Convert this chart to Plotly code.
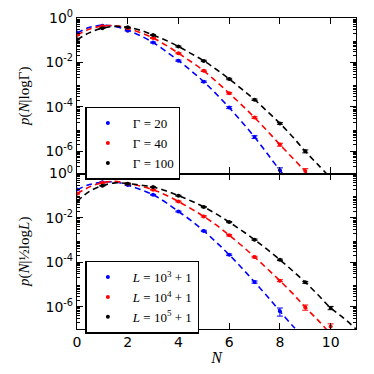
import plotly.graph_objects as go
from plotly.subplots import make_subplots

# model curves (dashed)
n_curve_top_blue = [0, 0.5, 1, 1.5, 2, 2.5, 3, 3.5, 4, 4.5, 5, 5.5, 6, 6.5, 7, 7.5, 8, 8.3]
p_curve_top_blue = [0.21, 0.38, 0.47, 0.42, 0.28, 0.16, 0.079, 0.032, 0.012, 4.2e-3, 1.35e-3,
                    3.7e-4, 9.3e-5, 2.1e-5, 4.4e-6, 7.9e-7, 1.4e-7, 5.6e-8]
n_curve_top_red = [0, 0.5, 1, 1.5, 2, 2.5, 3, 3.5, 4, 4.5, 5, 5.5, 6, 6.5, 7, 7.5, 8, 8.5, 9, 9.3]
p_curve_top_red = [0.17, 0.32, 0.43, 0.45, 0.35, 0.22, 0.126, 0.060, 0.026, 0.0107, 4.2e-3, 1.35e-3,
                   4.1e-4, 1.2e-4, 3.3e-5, 8.3e-6, 2.0e-6, 5.0e-7, 1.26e-7, 5.6e-8]
n_curve_top_black = [0, 0.5, 1, 1.5, 2, 2.5, 3, 3.5, 4, 4.5, 5, 5.5, 6, 6.5, 7, 7.5, 8, 8.5, 9, 9.5, 10]
p_curve_top_black = [0.105, 0.22, 0.35, 0.42, 0.38, 0.28, 0.17, 0.10, 0.052, 0.025, 0.0117, 4.8e-3,
                     1.8e-3, 6.3e-4, 2.1e-4, 6.3e-5, 1.8e-5, 4.5e-6, 1.0e-6, 2.5e-7, 6.3e-8]

n_curve_bot_blue = [0, 0.5, 1, 1.5, 2, 2.5, 3, 3.5, 4, 4.5, 5, 5.5, 6, 6.5, 7, 7.5, 8, 8.5, 8.8]
p_curve_bot_blue = [0.186, 0.32, 0.40, 0.42, 0.30, 0.19, 0.11, 0.050, 0.0195, 7.6e-3, 2.6e-3, 7.9e-4,
                    2.2e-4, 5.6e-5, 1.3e-5, 3.0e-6, 6.3e-7, 1.4e-7, 6.3e-8]
n_curve_bot_red = [0, 0.5, 1, 1.5, 2, 2.5, 3, 3.5, 4, 4.5, 5, 5.5, 6, 6.5, 7, 7.5, 8, 8.5, 9, 9.5, 9.9]
p_curve_bot_red = [0.123, 0.25, 0.38, 0.44, 0.35, 0.27, 0.186, 0.107, 0.055, 0.026, 0.0117, 4.7e-3,
                   1.66e-3, 5.6e-4, 1.74e-4, 5.2e-5, 1.5e-5, 4.0e-6, 9.5e-7, 2.5e-7, 7.9e-8]
n_curve_bot_black = [0, 0.5, 1, 1.5, 2, 2.5, 3, 3.5, 4, 4.5, 5, 5.5, 6, 6.5, 7, 7.5, 8, 8.5, 9, 9.5,
                     10, 10.5, 11]
p_curve_bot_black = [0.055, 0.16, 0.28, 0.38, 0.35, 0.30, 0.245, 0.166, 0.10, 0.058, 0.031, 0.0148,
                     6.5e-3, 2.7e-3, 1.05e-3, 3.8e-4, 1.3e-4, 4.2e-5, 1.26e-5, 3.5e-6, 8.9e-7, 3.2e-7, 1.0e-7]

# measured points with error bars
n_top_blue = [0, 1, 2, 3, 4, 5, 6, 7, 8]
p_top_blue = [0.22, 0.45, 0.27, 0.079, 0.012, 1.35e-3, 9.3e-5, 4.4e-6, 1.4e-7]
e_top_blue = [0.01, 0.02, 0.012, 0.004, 0.0008, 1.0e-4, 9e-6, 6e-7, 4e-8]
n_top_red = [0, 1, 2, 3, 4, 5, 6, 7, 8, 9]
p_top_red = [0.17, 0.43, 0.35, 0.126, 0.026, 4.2e-3, 4.1e-4, 3.3e-5, 2.0e-6, 1.3e-7]
e_top_red = [0.008, 0.02, 0.015, 0.006, 0.0015, 3e-4, 3.5e-5, 3e-6, 3e-7, 3.5e-8]
n_top_black = [0, 1, 2, 3, 4, 5, 6, 7, 8, 9]
p_top_black = [0.11, 0.35, 0.38, 0.17, 0.052, 0.0117, 1.8e-3, 2.1e-4, 1.8e-5, 1.0e-6]
e_top_black = [0.006, 0.015, 0.015, 0.008, 0.003, 8e-4, 1.3e-4, 1.6e-5, 1.6e-6, 1.5e-7]

n_bot_blue = [0, 1, 2, 3, 4, 5, 6, 7, 8]
p_bot_blue = [0.19, 0.40, 0.30, 0.11, 0.0195, 2.6e-3, 2.2e-4, 1.3e-5, 6.3e-7]
e_bot_blue = [0.01, 0.02, 0.013, 0.005, 0.001, 1.8e-4, 1.8e-5, 1.5e-6, 2.5e-7]
n_bot_red = [0, 1, 2, 3, 4, 5, 6, 7, 8, 9, 10]
p_bot_red = [0.123, 0.38, 0.35, 0.186, 0.055, 0.0117, 1.66e-3, 1.74e-4, 1.5e-5, 9.5e-7, 1.3e-7]
e_bot_red = [0.006, 0.018, 0.015, 0.008, 0.003, 8e-4, 1.2e-4, 1.4e-5, 1.5e-6, 2.5e-7, 4e-8]
n_bot_black = [0, 1, 2, 3, 4, 5, 6, 7, 8, 9, 10]
p_bot_black = [0.055, 0.28, 0.35, 0.245, 0.10, 0.031, 6.5e-3, 1.05e-3, 1.3e-4, 1.26e-5, 8.9e-7]
e_bot_black = [0.003, 0.012, 0.015, 0.01, 0.005, 0.002, 4e-4, 7e-5, 1e-5, 1.2e-6, 1.5e-7]

top_labels = ["Γ = 20", "Γ = 40", "Γ = 100"]
bot_labels = ["<i>L</i> = 10<sup>3</sup> + 1", "<i>L</i> = 10<sup>4</sup> + 1", "<i>L</i> = 10<sup>5</sup> + 1"]
x_ticks = [0, 2, 4, 6, 8, 10]
y_ticks = [1, 1e-2, 1e-4, 1e-6]
y_ticktext = ["10<sup>0</sup>", "10<sup>-2</sup>", "10<sup>-4</sup>", "10<sup>-6</sup>"]

colors = ["#0000ff", "#ff0000", "#000000"]
serif = "Liberation Serif"

fig = make_subplots(rows=2, cols=1, shared_xaxes=True, vertical_spacing=0)

top_curves = [(n_curve_top_blue, p_curve_top_blue), (n_curve_top_red, p_curve_top_red),
              (n_curve_top_black, p_curve_top_black)]
bot_curves = [(n_curve_bot_blue, p_curve_bot_blue), (n_curve_bot_red, p_curve_bot_red),
              (n_curve_bot_black, p_curve_bot_black)]
top_pts = [(n_top_blue, p_top_blue, e_top_blue), (n_top_red, p_top_red, e_top_red),
           (n_top_black, p_top_black, e_top_black)]
bot_pts = [(n_bot_blue, p_bot_blue, e_bot_blue), (n_bot_red, p_bot_red, e_bot_red),
           (n_bot_black, p_bot_black, e_bot_black)]

for row, curves, pts, labels, leg in [(1, top_curves, top_pts, top_labels, "legend"),
                                      (2, bot_curves, bot_pts, bot_labels, "legend2")]:
    for (cx, cy), (px_, py, pe), c, lab in zip(curves, pts, colors, labels):
        fig.add_trace(go.Scatter(x=cx, y=cy, mode="lines", line=dict(color=c, width=1.6, dash="6px,4px"),
                                 line_shape="spline", showlegend=False, hoverinfo="skip"), row=row, col=1)
        fig.add_trace(go.Scatter(x=px_, y=py, mode="markers", name=lab, legend=leg,
                                 marker=dict(color=c, size=4),
                                 error_y=dict(type="data", array=pe, color=c, thickness=1, width=3)),
                      row=row, col=1)

axis_common = dict(showline=True, linecolor="black", linewidth=1.2, mirror="allticks",
                   ticks="inside", tickcolor="black", showgrid=False, zeroline=False, automargin=False,
                   tickfont=dict(family="DejaVu Sans", size=14, color="black"))

fig.update_xaxes(range=[0, 11], tickvals=x_ticks, ticklen=6, **axis_common)
fig.update_xaxes(showticklabels=False, row=1, col=1)
fig.update_xaxes(title=dict(text="<i>N</i>", font=dict(family=serif, size=16, color="black"), standoff=2),
                 row=2, col=1)

minor_vals = [m * 10.0 ** k for k in range(-8, 1) for m in range(2, 10)]
fig.update_yaxes(type="log", range=[-7, 0], tickvals=y_ticks, ticktext=y_ticktext, ticklen=6,
                 minor=dict(tickvals=minor_vals, ticks="inside", ticklen=3, tickcolor="black"),
                 **axis_common)
fig.update_yaxes(title=dict(text="<i>p</i>(<i>N</i>|logΓ)", font=dict(family=serif, size=15, color="black"),
                            standoff=12), row=1, col=1)
fig.update_yaxes(title=dict(text="<i>p</i>(<i>N</i>|½log<i>L</i>)", font=dict(family=serif, size=15, color="black"),
                            standoff=12), row=2, col=1)

legend_common = dict(bgcolor="white", bordercolor="black", borderwidth=1.5,
                     font=dict(family=serif, size=13, color="black"),
                     xanchor="left", yanchor="top", itemsizing="trace", itemwidth=40,
                     tracegroupgap=0, indentation=-4)
# the page body has an 8px margin, so the plot area is shifted back by that much
fig.update_layout(
    width=374, height=374,
    margin=dict(l=69, r=26, t=10, b=53),
    plot_bgcolor="white", paper_bgcolor="white",
    legend=dict(x=0.03, y=0.715, **legend_common),
    legend2=dict(x=0.03, y=0.22, **legend_common),
)

fig.write_html("out.html")
